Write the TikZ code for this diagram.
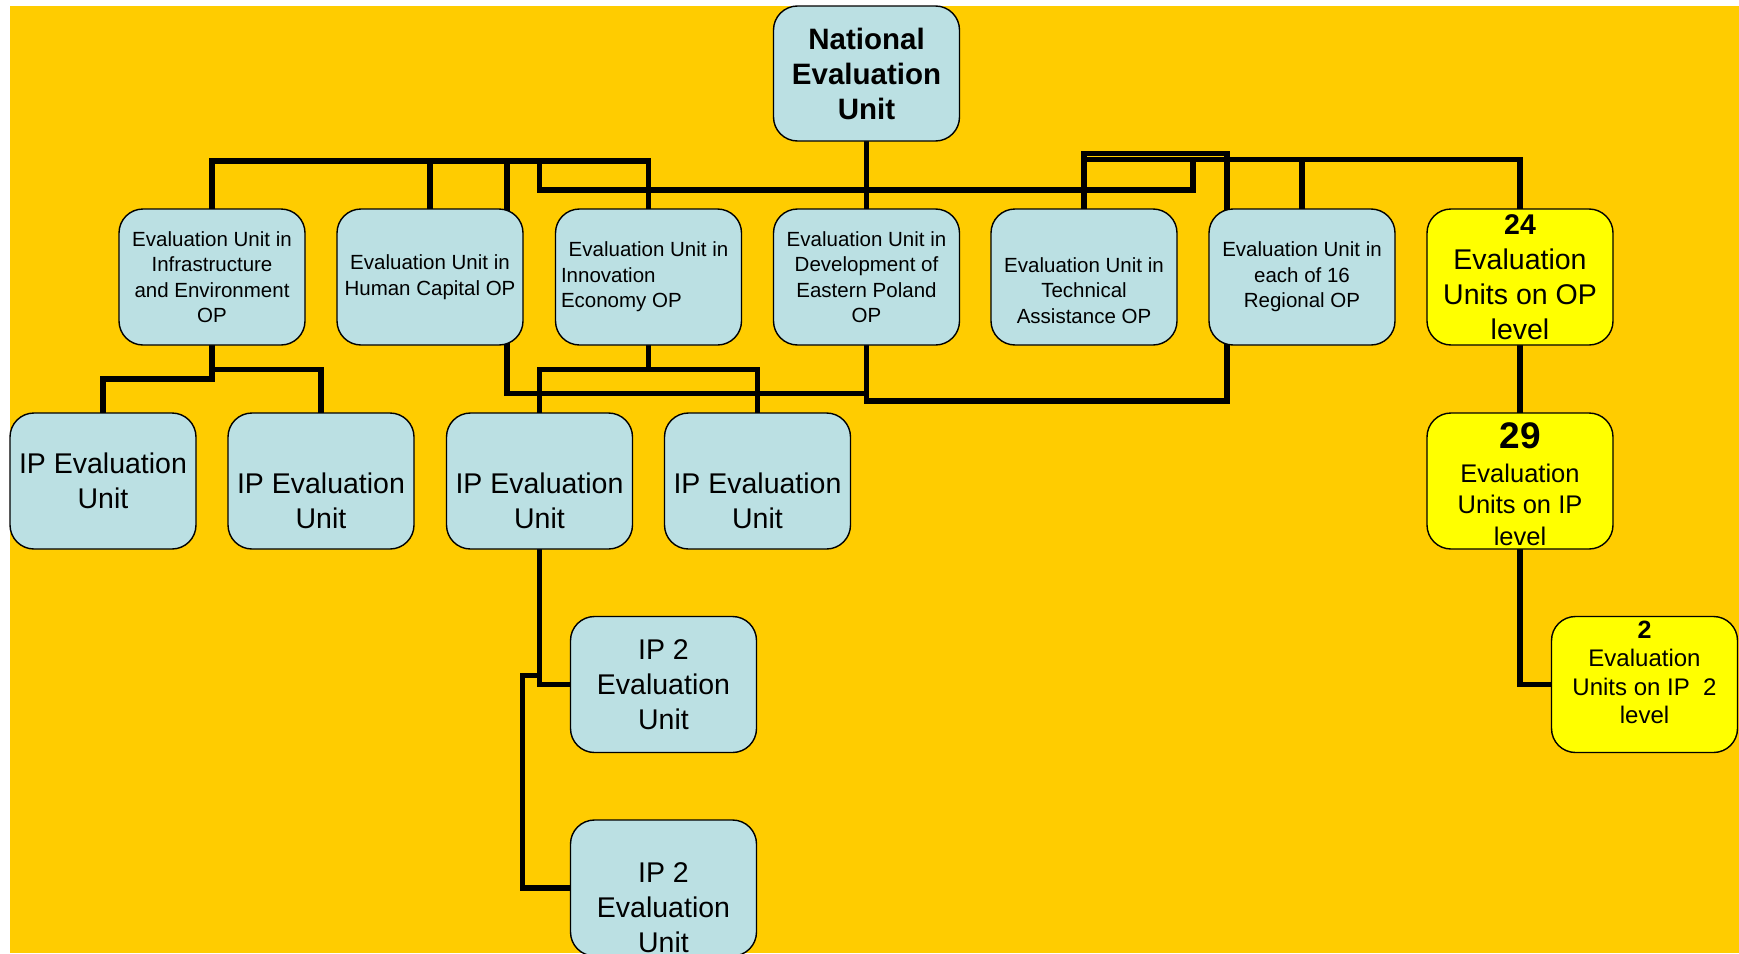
\documentclass[tikz,border=0pt]{standalone}
\usepackage{fontspec}
\setmainfont{Liberation Sans}
\usetikzlibrary{backgrounds}
\definecolor{bgorange}{HTML}{FFCC00}
\definecolor{boxblue}{HTML}{BBE0E3}
\definecolor{boxyellow}{HTML}{FFFF00}
\begin{document}
\begin{tikzpicture}[x=1pt,y=-1pt,
  box/.style={draw=black, line width=1.4pt, rounded corners=24pt, minimum width=186pt, minimum height=136pt, inner sep=0pt, align=center, text=black},
  bluebox/.style={box, fill=boxblue},
  yelbox/.style={box, fill=boxyellow},
  conn/.style={draw=black, line width=5.5pt, line join=miter, line cap=rect},
  fnat/.style={font=\fontsize{29.5}{35}\selectfont\bfseries},
  fsub/.style={font=\fontsize{20.5}{25.5}\selectfont},
  fip/.style={font=\fontsize{28.5}{35}\selectfont},
  fbig/.style={font=\fontsize{28.5}{35}\selectfont},
  fmid/.style={font=\fontsize{25.5}{31.5}\selectfont},
  fsmall/.style={font=\fontsize{24}{28.5}\selectfont},
  lbl/.style={align=center, inner sep=0pt, text=black}
]
\useasboundingbox (0,0) rectangle (1739,953);
\begin{pgfonlayer}{background}
  \fill[white] (0,0) rectangle (1739,953);
  \fill[bgorange] (10,6) rectangle (1739,953);
\end{pgfonlayer}

% top node
\node[bluebox, fnat, minimum height=135pt] (nat) at (866.5,73.5) {National\\Evaluation\\Unit};

% OP level
\node[bluebox, fsub] (infra) at (212,277) {Evaluation Unit in\\Infrastructure\\and Environment\\OP};
\node[bluebox, fsub] (human) at (430,277) {Evaluation Unit in\\Human Capital OP};
\node[bluebox, fsub] (innov) at (648.5,277) {Evaluation Unit in\\\makebox[175pt][l]{Innovation}\\\makebox[175pt][l]{Economy OP}};
\node[bluebox, fsub] (east) at (866.5,277) {Evaluation Unit in\\Development of\\Eastern Poland\\OP};
\node[bluebox, label={[lbl, fsub, yshift=-13.5pt]center:Evaluation Unit in\\Technical\\Assistance OP}] (tech) at (1084,277) {};
\node[bluebox, fsub] (reg) at (1302,277) {Evaluation Unit in\\each of 16\\Regional OP};
\node[yelbox, fbig] (op24) at (1520,277) {{\bfseries 24}\\Evaluation\\Units on OP\\level};

% IP level
\node[bluebox, fip] (ip1) at (103,481) {IP Evaluation\\Unit};
\node[bluebox, label={[lbl, fip, yshift=-19.5pt]center:IP Evaluation\\Unit}] (ip2) at (321,481) {};
\node[bluebox, label={[lbl, fip, yshift=-19.5pt]center:IP Evaluation\\Unit}] (ip3) at (539.5,481) {};
\node[bluebox, label={[lbl, fip, yshift=-19.5pt]center:IP Evaluation\\Unit}] (ip4) at (757.5,481) {};
\node[yelbox, label={[lbl, fmid, yshift=-3pt]center:{\fontsize{37}{37}\selectfont\bfseries 29}\\[2.5pt]Evaluation\\Units on IP\\level}] (op29) at (1520,481) {};

% IP 2 level
\node[bluebox, fip] (ip2a) at (663.5,684.5) {IP 2\\Evaluation\\Unit};
\node[bluebox, label={[lbl, fip, yshift=-20pt]center:IP 2\\Evaluation\\Unit}] (ip2b) at (663.5,888) {};
\node[yelbox, label={[lbl, fsmall, yshift=12pt]center:{\fontsize{25}{25}\selectfont\bfseries 2}\\Evaluation\\Units on IP\ \ 2\\level}] (two) at (1644.5,684.5) {};

% helper levels
\coordinate (hA) at (0,161);
\coordinate (hT1) at (0,153.3);
\coordinate (hT2) at (0,159.7);
\coordinate (hL1) at (0,369.5);
\coordinate (hL2) at (0,379);
\coordinate (hM) at (0,393.5);
\coordinate (hN) at (0,401);
\coordinate (hP) at (0,675.7);

\begin{pgfonlayer}{background}
  \draw[conn] (infra.north) |- (430,161) -| (innov.north);
  \draw[conn] (human.north) -- (human.north |- hA);
  \draw[conn] (507,161) -- (507,393.5) -- (east.south |- hM);
  \draw[conn] (539.5,161) |- (1193,190) -- (1193,159.7);
  \draw[conn] (nat.south) -- (east.north);
  \draw[conn] (tech.north) |- (1227,153.3) |- (east.south |- hN) -- (east.south);
  \draw[conn] (tech.north |- hT2) -| (op24.north);
  \draw[conn] (reg.north) -- (reg.north |- hT2);
  \draw[conn] (infra.south) |- (321,369.5) -- (ip2.north);
  \draw[conn] (infra.south) |- (103,379) -- (ip1.north);
  \draw[conn] (innov.south) -- (innov.south |- hL1);
  \draw[conn] (ip3.north) |- (757.5,369.5) -- (ip4.north);
  \draw[conn] (ip3.south) |- (ip2a.west);
  \draw[conn] (ip3.south |- hP) -| (522.3,888) -- (ip2b.west);
  \draw[conn] (op24.south) -- (op29.north);
  \draw[conn] (op29.south) |- (two.west);
\end{pgfonlayer}
\end{tikzpicture}
\end{document}
